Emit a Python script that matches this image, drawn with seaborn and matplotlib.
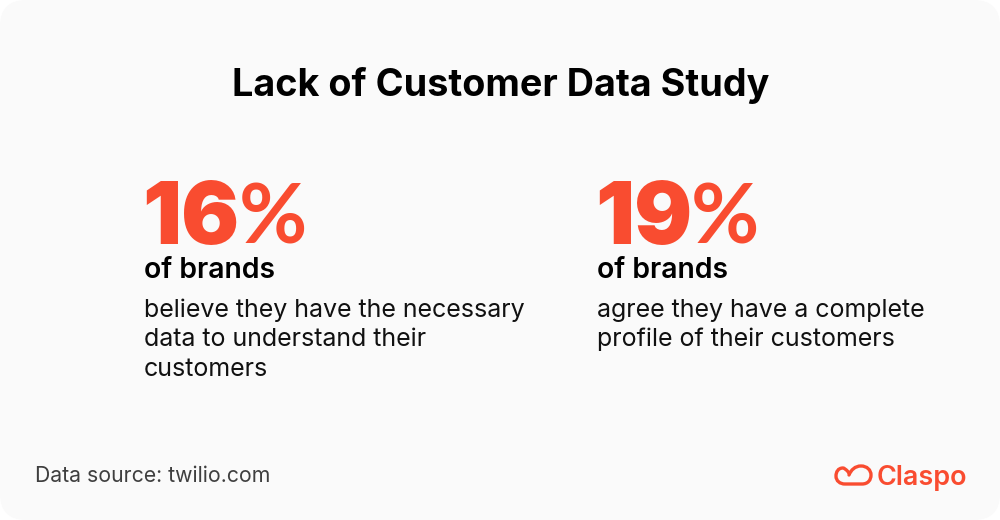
import matplotlib
matplotlib.use('Agg')
import matplotlib.pyplot as plt
import seaborn as sns
from matplotlib.patches import FancyBboxPatch, PathPatch
from matplotlib.path import Path

title = 'Lack of Customer Data Study'
values = [16, 19]
unit_labels = ['of brands', 'of brands']
descriptions = [
    ['believe they have the necessary', 'data to understand their', 'customers'],
    ['agree they have a complete', 'profile of their customers'],
]
source = 'Data source: twilio.com'
brand = 'Claspo'

ACCENT = '#f94c30'
INK = '#000000'
GREY = '#3f3f3f'

sns.set_theme(style='white')
plt.rcParams['font.family'] = ['Inter', 'DejaVu Sans']

fig = plt.figure(figsize=(10, 5.2), dpi=100, facecolor='white')
ax = fig.add_axes([0, 0, 1, 1])
ax.set_xlim(0, 1000)
ax.set_ylim(520, 0)
ax.axis('off')

# card background
ax.add_patch(FancyBboxPatch((0, 0), 1000, 520, boxstyle='round,pad=0,rounding_size=26',
                            fc='#fafafa', ec='none', mutation_aspect=1))

ax.text(501, 82, title, ha='center', va='center_baseline', fontsize=27.2,
        fontweight='bold', color=INK)

col_x = [144, 597]
for x, val, unit, lines in zip(col_x, values, unit_labels, descriptions):
    # percent sign is narrower in the reference, so it gets its own font
    num = ax.text(x - 2, 244, f'{val}', ha='left', va='baseline', fontsize=62,
                  fontweight='black', color=ACCENT)
    bb = num.get_window_extent(fig.canvas.get_renderer())
    ax.text(bb.x1 - 1, 244, '%', ha='left', va='baseline', fontsize=60,
            fontweight='bold', family=['Lato', 'DejaVu Sans'], color=ACCENT)
    ax.text(x, 278.5, unit, ha='left', va='baseline', fontsize=20.4,
            fontweight='semibold', color=INK)
    for i, line in enumerate(lines):
        ax.text(x, 317 + i * 29.3, line, ha='left', va='baseline', fontsize=18,
                color='#111111')

ax.text(35, 482, source, ha='left', va='baseline', fontsize=15.3, color=GREY)

# cloud logo
M, C = Path.MOVETO, Path.CURVE4
verts = [(849, 473), (847, 470), (844, 468), (843, 468),
         (838, 468), (836, 472), (836, 476),
         (836, 481), (840, 484), (845, 484),
         (851, 484), (857, 484), (862, 484),
         (868, 484), (871, 480), (871, 475),
         (871, 470), (867, 466), (861, 466),
         (855, 466), (851, 470), (849, 475)]
codes = [M, C, C, C, C, C, C, C, C, C, C, C, C, C, C, C, C, C, C, C, C, C]
ax.add_patch(PathPatch(Path(verts, codes), fc='none', ec=ACCENT, lw=2.4, capstyle='round'))
ax.text(877, 485, brand, ha='left', va='baseline', fontsize=19.4, fontweight='semibold',
        color=ACCENT)

fig.savefig('out.png', dpi=100, facecolor='white')
